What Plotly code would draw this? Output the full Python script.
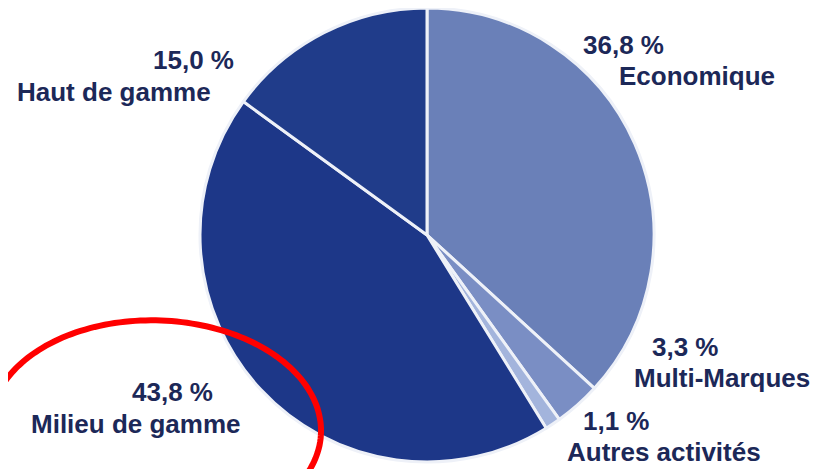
import numpy as np
import plotly.graph_objects as go

categories = ["Economique", "Multi-Marques", "Autres activités", "Milieu de gamme", "Haut de gamme"]
values = [36.8, 3.3, 1.1, 43.8, 15.0]
value_labels = ["36,8 %", "3,3 %", "1,1 %", "43,8 %", "15,0 %"]
colors = ["#6a80b8", "#7a8ec4", "#a3b4dc", "#1d3788", "#203c8a"]

W, H = 827, 469
OFF = 8  # page body margin
TEXT = "#1c2858"
FONT = "Liberation Sans, Arial, sans-serif"


def px(x):
    return (x - OFF) / W


def py(y):
    return 1 - (y - OFF) / H


fig = go.Figure()
cx, cy, r = 427, 235, 227
fig.add_trace(go.Pie(
    labels=categories, values=values, sort=False, direction="clockwise",
    rotation=0, textinfo="none", hoverinfo="label+percent",
    marker=dict(colors=colors, line=dict(color="#eef1f8", width=3)),
    domain=dict(x=[px(cx - r), px(cx + r)], y=[max(0, py(cy + r)), min(1, py(cy - r))]),
    showlegend=False,
))

label_pos = {
    "Economique": ((623, 45), (697, 76)),
    "Multi-Marques": ((685, 347), (722, 378)),
    "Autres activités": ((616, 421), (664, 452)),
    "Milieu de gamme": ((172, 392), (136, 424)),
    "Haut de gamme": ((193, 60), (114, 92)),
}
ann = []
for cat, vl in zip(categories, value_labels):
    (vx, vy), (nx, ny) = label_pos[cat]
    for txt, (x, y) in ((vl, (vx, vy)), (cat, (nx, ny))):
        ann.append(dict(x=px(x), y=py(y), xref="paper", yref="paper",
                        text="<b>%s</b>" % txt, showarrow=False,
                        xanchor="center", yanchor="middle",
                        font=dict(family=FONT, size=26, color=TEXT)))

# red highlight ellipse (decoration): conic fitted through traced points
tr = np.array([(0, 390), (50, 343), (100, 325), (143, 322), (250, 340),
               (300, 378), (320, 430), (312, 467)], float) / 100.0
X, Y = tr[:, 0], tr[:, 1]
Amat = np.column_stack([X * X, X * Y, Y * Y, X, Y])
A, B, C, D, E = np.linalg.lstsq(Amat, np.ones(len(X)), rcond=None)[0]
F = -1.0
x0, y0 = np.linalg.solve([[2 * A, B], [B, 2 * C]], [-D, -E])
Fp = A * x0 * x0 + B * x0 * y0 + C * y0 * y0 + D * x0 + E * y0 + F
lam, V = np.linalg.eigh(np.array([[A, B / 2], [B / 2, C]]))
ax = np.sqrt(-Fp / lam)
t = np.linspace(0, 2 * np.pi, 200)
pts = (V @ np.vstack([ax[0] * np.cos(t), ax[1] * np.sin(t)])).T + [x0, y0]
pts *= 100.0
path = "M " + " L ".join("%.4f,%.4f" % (px(x), py(y)) for x, y in pts) + " Z"

fig.update_layout(
    width=W, height=H, margin=dict(l=0, r=0, t=0, b=0),
    paper_bgcolor="white", plot_bgcolor="white",
    annotations=ann,
    shapes=[dict(type="path", path=path, xref="paper", yref="paper",
                 line=dict(color="#ff0000", width=6))],
)
fig.write_html("out.html")
